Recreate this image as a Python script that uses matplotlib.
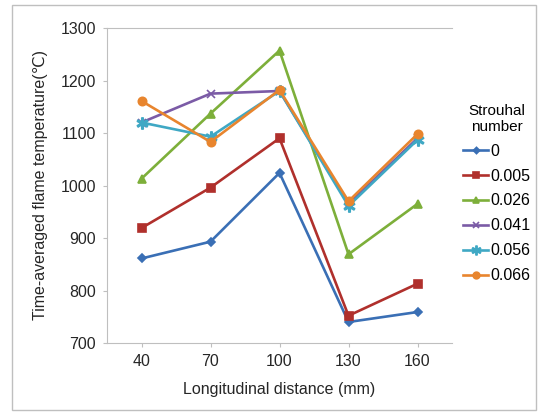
import matplotlib.pyplot as plt
from matplotlib.patches import Rectangle

# Longitudinal distance categories (mm)
distancias = ['40', '70', '100', '130', '160']

# Temperatura média por número de Strouhal
st_0 = [861, 893, 1024, 740, 759]
st_0005 = [919, 996, 1090, 752, 813]
st_0026 = [1013, 1137, 1257, 869, 965]
st_0041 = [1120, 1175, 1180, 965, 1090]
st_0056 = [1120, 1093, 1180, 961, 1087]
st_0066 = [1161, 1083, 1182, 970, 1098]

series = [
    ('0', st_0, '#3A6FB5', 'D', 4),
    ('0.005', st_0005, '#B0302C', 's', 6),
    ('0.026', st_0026, '#7DAF3A', '^', 6),
    ('0.041', st_0041, '#7B5BA6', 'x', 6),
    ('0.056', st_0056, '#3FA8C4', '$\\ast$', 8),
    ('0.066', st_0066, '#E8852E', 'o', 6),
]

plt.rcParams['font.family'] = ['Liberation Sans', 'DejaVu Sans']

fig = plt.figure(figsize=(5.38, 4.19), dpi=100)
fig.patches.append(Rectangle((12 / 538, 1 - 410 / 419), 524 / 538, 405 / 419,
                             transform=fig.transFigure, fill=False,
                             edgecolor='#BFBFBF', linewidth=1))
ax = fig.add_axes([107 / 538, 1 - 343 / 419, 345 / 538, 315 / 419])

for nome, valores, cor, marcador, tam in series:
    ax.plot(distancias, valores, color=cor, marker=marcador, markersize=tam,
            linewidth=1.9, label=nome, markeredgewidth=1.2)

ax.set_xlim(-0.5, 4.5)
ax.set_ylim(700, 1300)
ax.set_yticks(range(700, 1301, 100))
ax.set_xlabel('Longitudinal distance (mm)', fontsize=11.5, color='#262626', labelpad=9)
ax.set_ylabel('Time-averaged flame temperature(\u2103)', fontsize=11.5, color='#262626',
              labelpad=9)
ax.tick_params(labelsize=11.5, colors='#262626', length=3, pad=5)
ax.tick_params(color='#BFBFBF')
for lado in ['left', 'bottom', 'top']:
    ax.spines[lado].set_color('#BFBFBF')
ax.spines['right'].set_visible(False)

leg = ax.legend(title='Strouhal\nnumber', loc='center left', bbox_to_anchor=(0.99, 0.475),
                frameon=False, fontsize=11.5, title_fontsize=11,
                handlelength=1.6, handletextpad=0.1, labelspacing=0.62,
                markerscale=0.8)
leg._legend_box.align = 'center'
leg.get_title().set_multialignment('center')

fig.savefig('out.png', dpi=100)
